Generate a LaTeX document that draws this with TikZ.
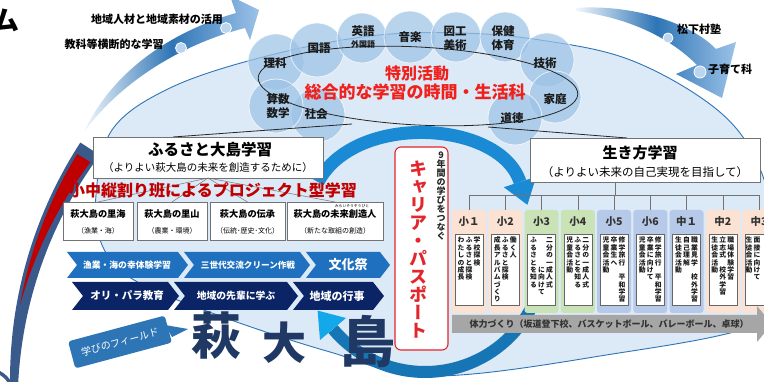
\documentclass[tikz,border=0pt]{standalone}
\usepackage{fontspec}
\setmainfont{Noto Sans CJK JP}
\newfontfamily\vf{Noto Sans CJK JP}[RawFeature=+vert]
\usetikzlibrary{calc}
\definecolor{ellfill}{HTML}{DCE9F6}
\definecolor{ellline}{HTML}{2E75B6}
\definecolor{subj}{HTML}{9DC3E6}
\definecolor{navy}{HTML}{0B2466}
\definecolor{midblue}{HTML}{1F70BE}
\definecolor{leftnavy}{HTML}{3A5A8C}
\definecolor{darkred}{HTML}{C00000}
\definecolor{cyc}{HTML}{1A8AD4}
\definecolor{cychead}{HTML}{12A8EA}
\definecolor{pinkc}{HTML}{FBE2D3}
\definecolor{greenc}{HTML}{C9E3B7}
\definecolor{bluec}{HTML}{B7C9E8}
\definecolor{bigchar}{HTML}{1F3864}
\definecolor{calloutc}{HTML}{2E75B6}
\definecolor{graybar}{HTML}{A6A6A6}
\definecolor{redtxt}{HTML}{F0201C}
\definecolor{passred}{HTML}{E3262B}
\definecolor{arrL}{HTML}{F2F7FC}
\definecolor{arrM}{HTML}{2E75B6}
\definecolor{arrR}{HTML}{9CC2E8}
\newcommand\fz[1]{\fontsize{#1}{#1}\selectfont}
\makeatletter
\def\vs@e{\vs@e}
\newcommand\vs[2][1.0]{\def\vs@p{#1}\vtop{\offinterlineskip\vs@l#2\vs@e}}
\def\vs@l#1{\ifx#1\vs@e\else\hbox to 1em{\hss\vrule width0pt height .88em depth \dimexpr\vs@p em-.88em\relax#1\hss}\expandafter\vs@l\fi}
\makeatother
\begin{document}
\begin{tikzpicture}[x=1pt,y=-1pt,
  every node/.style={inner sep=0pt,outer sep=0pt},
  subjc/.style={circle,fill=subj,fill opacity=0.72,draw=white,draw opacity=0.7,line width=0.8pt},
  subjt/.style={font=\bfseries\fz{11.5},text=black!90},
  wbox/.style={draw=black!55,line width=0.6pt,fill=white},
  treeline/.style={draw=black!55,line width=0.5pt},
  chevA/.style={fill=midblue},
  chevB/.style={fill=navy},
  chtext/.style={text=white},
  smallc/.style={fill=subj!70,draw=white,line width=0.8pt},
  vcol/.style={anchor=north,font=\vf\bfseries\fz{6.8},text=black!90}]
\useasboundingbox (0,0) rectangle (764,382);
\fill[white] (0,0) rectangle (764,382);
% big ellipse
\filldraw[fill=ellfill, draw=ellline, line width=0.9pt] plot[smooth cycle, tension=0.6] coordinates {(96,195) (112,130) (170,88) (263,57) (370,36) (460,33) (540,40) (625,58) (700,97) (745,140) (770,200) (775,265) (762,322) (600,356) (430,376) (330,352) (220,316) (134,280) (102,245)};
% left big arc
\fill[leftnavy] plot[domain=213:177, samples=40] ({446+436*cos(\x)},{380+436*sin(\x)}) -- plot[domain=177:213, samples=40] ({446+(429-(\x-177)/36*16)*cos(\x)},{380+(429-(\x-177)/36*16)*sin(\x)}) -- cycle;
\fill[darkred] plot[domain=211.5:190, samples=40] ({446+432.5*cos(\x)},{380+432.5*sin(\x)}) -- plot[domain=190:211.5, samples=40] ({446+(432.5-(\x-190)/21.5*15.5)*cos(\x)},{380+(432.5-(\x-190)/21.5*15.5)*sin(\x)}) -- cycle;
\draw[leftnavy, line width=3.5pt] plot[domain=265:335, samples=20] ({-12+25*cos(\x)},{395+25*sin(\x)});
% top-left arrow
\shade[left color=arrL, right color=arrR, middle color=arrM] (84,132) .. controls (112,72) and (170,32) .. (236,13) -- (230,-4) -- (259,10) -- (250,40) -- (245,28) .. controls (178,45) and (118,85) .. (84,132) -- cycle;
% top-right arrow
\shade[left color=arrL, right color=arrR, middle color=arrM] (576,8) .. controls (630,4) and (690,22) .. (716,49) -- (736,42) -- (722,98) -- (676,74) -- (697,65) .. controls (670,38) and (630,18) .. (576,11) -- cycle;
\filldraw[smallc] (226,28) circle[radius=5.5];
\filldraw[smallc] (181,48) circle[radius=5.5];
\filldraw[smallc] (668,38) circle[radius=5];
\filldraw[smallc] (700,72) circle[radius=6];
\node[font=\bfseries\fz{11}] (tChiiki) at (157,19) {地域人材と地域素材の活用};
\node[font=\bfseries\fz{11}] (tKyoka) at (114,44) {教科等横断的な学習};
\node[font=\bfseries\fz{11}] (tShoka) at (699,29) {松下村塾};
\node[font=\bfseries\fz{11}] (tKosodate) at (730,69) {子育て科};
\node[font=\bfseries\fz{27}] (mu) at (6,20) {ム};
% subject circles
\node[subjc, minimum size=56] (cRika) at (276,62) {};
\node[subjc, minimum size=54] (cKoku) at (317,50) {};
\node[subjc, minimum size=50] (cEigo) at (362,38) {};
\node[subjc, minimum size=52] (cOng) at (410,37) {};
\node[subjc, minimum size=50] (cZuko) at (456,37) {};
\node[subjc, minimum size=50] (cHoken) at (505,37) {};
\node[subjc, minimum size=54] (cGij) at (547,60) {};
\node[subjc, minimum size=52] (cKatei) at (555,97) {};
\node[subjc, minimum size=54] (cDoto) at (515,118) {};
\node[subjc, minimum size=54] (cShak) at (318,115) {};
\node[subjc, minimum size=54] (cSan) at (276,106) {};
% ring
\draw[black!85, line width=0.8pt] plot[smooth cycle, samples=72, domain=0:355] ({418+160*cos(\x)*cos(3)-39*sin(\x)*sin(3)},{86+160*cos(\x)*sin(3)+39*sin(\x)*cos(3)});
\node[subjt] (lRika) at (275,63) {理科};
\node[subjt] (lKoku) at (319,48) {国語};
\node[subjt] (lEigo) at (363,31) {英語};
\node[font=\bfseries\fz{8},text=black!90] (lGai) at (363,44) {外国語};
\node[subjt] (lOng) at (410,37) {音楽};
\node[subjt] (lZu) at (455,31) {図工};
\node[subjt] (lBi) at (455,45) {美術};
\node[subjt] (lHo) at (503,31) {保健};
\node[subjt] (lTai) at (503,45) {体育};
\node[subjt] (lGij) at (545,63) {技術};
\node[subjt] (lKatei) at (555,99) {家庭};
\node[subjt] (lDoto) at (512,118) {道徳};
\node[subjt] (lShak) at (316,114) {社会};
\node[subjt] (lSan) at (278,99) {算数};
\node[subjt] (lSug) at (278,113) {数学};
\node[font=\bfseries\fz{16}, text=redtxt] (tokubetsu) at (417,73) {特別活動};
\node[font=\bfseries\fz{17}, text=redtxt] (sogo) at (415,92) {総合的な学習の時間・生活科};
% connectors ring -> boxes
\coordinate (ringL) at (352,124);
\coordinate (ringR) at (488,127);
\coordinate (furuTop) at (173,137);
\coordinate (ikiTop) at (627,138);
\draw[black!85, line width=0.8pt] (ringL) -- (furuTop);
\draw[black!85, line width=0.8pt] (ringR) -- (ikiTop);
% cycle arrows
\draw[cyc, line width=13pt] (318,182) .. controls (355,112) and (500,120) .. (520,182);
\fill[cyc] (503.8,187.2) -- (536.2,176.8) -- (527.4,204.8) -- cycle;
\draw[cyc!85!black, line width=12pt] plot[domain=22:140, samples=60] ({425+120*cos(\x)},{252+120*sin(\x)});
\fill[cychead] (320,340) -- (346,318) -- (317.6,310.6) -- cycle;
% furusato box
\node[wbox, minimum width=230, minimum height=41, anchor=north west] (furusato) at (93,137) {};
\node[font=\bfseries\fz{15.5}] (furuT) at (210,150) {ふるさと大島学習};
\node[font=\fz{10.5}] (furuS) at (208,168) {（よりよい萩大島の未来を創造するために）};
% sub boxes
\node[wbox, minimum width=70, minimum height=38, anchor=north west] (sb1) at (63,202) {};
\node[wbox, minimum width=70, minimum height=38, anchor=north west] (sb2) at (137,202) {};
\node[wbox, minimum width=75, minimum height=38, anchor=north west] (sb3) at (210,202) {};
\node[wbox, minimum width=96, minimum height=38, anchor=north west] (sb4) at (287,202) {};
\draw[treeline] (furusato.south) -- (sb1.north);
\draw[treeline] (furusato.south) -- (sb2.north);
\draw[treeline] (furusato.south) -- (sb3.north);
\draw[treeline] (furusato.south) -- (sb4.north);
\node[font=\bfseries\fz{16}, text=darkred] (project) at (213,190) {小中縦割り班によるプロジェクト型学習};
\node[font=\bfseries\fz{9.2}] (sb1t) at (98,214) {萩大島の里海};
\node[font=\fz{7}] (sb1s) at (98,231) {（漁業・海）};
\node[font=\bfseries\fz{9.2}] (sb2t) at (172,214) {萩大島の里山};
\node[font=\fz{7}] (sb2s) at (172,231) {（農業・環境）};
\node[font=\bfseries\fz{9.2}] (sb3t) at (247.5,214) {萩大島の伝承};
\node[font=\fz{7}] (sb3s) at (247.5,231) {（伝統･歴史･文化）};
\node[font=\bfseries\fz{9.2}] (sb4t) at (335,214.5) {萩大島の未来創造人};
\node[font=\fz{3.8}] (sb4r) at (352,206.5) {みらいそうぞうびと};
\node[font=\fz{7}] (sb4s) at (335,231) {（新たな取組の創造）};
% chevrons
\fill[chevA] (67,252) -- (178,252) -- (188,265) -- (178,278) -- (67,278) -- (77,265) -- cycle;
\fill[chevA] (184,252) -- (300,252) -- (310,265) -- (300,278) -- (184,278) -- (194,265) -- cycle;
\fill[chevA] (306,252) -- (380,252) -- (390,265) -- (380,278) -- (306,278) -- (316,265) -- cycle;
\fill[chevB] (72,282) -- (168,282) -- (179,296) -- (168,310) -- (72,310) -- (83,296) -- cycle;
\fill[chevB] (174,282) -- (287,282) -- (298,296) -- (287,310) -- (174,310) -- (185,296) -- cycle;
\fill[chevB] (293,282) -- (373,282) -- (384,296) -- (373,310) -- (293,310) -- (304,296) -- cycle;
\node[chtext, font=\bfseries\fz{8.8}] (r1a) at (127,265) {漁業・海の幸体験学習};
\node[chtext, font=\bfseries\fz{8.6}] (r1b) at (248,265) {三世代交流クリーン作戦};
\node[chtext, font=\bfseries\fz{13}] (r1c) at (348,265) {文化祭};
\node[chtext, font=\bfseries\fz{10.5}] (r2a) at (127,296) {オリ・パラ教育};
\node[chtext, font=\bfseries\fz{9.8}] (r2b) at (236,296) {地域の先輩に学ぶ};
\node[chtext, font=\bfseries\fz{11}] (r2c) at (337,296) {地域の行事};
% big characters
\node[font=\bfseries\fz{50}, text=bigchar] (kHagi) at (216,336) {萩};
\node[font=\bfseries\fz{44}, text=bigchar] (kDai) at (284,343) {大};
\node[font=\bfseries\fz{55}, text=bigchar] (kShima) at (368,342) {島};
% callout
\fill[calloutc] (165,325) -- (188,329) -- (172,337) -- cycle;
\node[fill=calloutc, rounded corners=3pt, rotate=15, minimum width=100, minimum height=28, text=white, font=\fz{10}] (field) at (120,342) {学びのフィールド};
% passport
\node[draw=passred, line width=1.1pt, fill=white, rounded corners=6pt, minimum width=53, minimum height=203, anchor=north west] (passport) at (395,147) {};
\node[anchor=north, font=\vf\bfseries\fz{9}, text=black!85] (pp1) at (441,151) {\vs{9年間の学びをつなぐ}};
\node[anchor=north, font=\vf\bfseries\fz{18}, text=passred] (pp2) at (418,160) {\vs{キャリア・パスポート}};
% ikikata box
\node[wbox, minimum width=230, minimum height=44, anchor=north west] (ikikata) at (530,138) {};
\node[font=\bfseries\fz{15}] (ikiT) at (640,153) {生き方学習};
\node[font=\fz{11.5}] (ikiS) at (645,172) {（よりよい未来の自己実現を目指して）};
\coordinate (treeJ) at (615,195);
\draw[treeline] (615,182) -- (treeJ);
\draw[treeline] (469,195) -- (760,195);
% grade columns
\foreach \i/\lab/\col in {0/小１/pinkc, 1/小2/pinkc, 2/小3/greenc, 3/小4/greenc, 4/小5/bluec, 5/小6/bluec, 6/中１/bluec, 7/中2/pinkc, 8/中3/pinkc} {
  \pgfmathsetmacro\xa{452+36.25*\i}
  \fill[\col, rounded corners=3pt] (\xa,210) rectangle ++(34,103);
  \draw[draw=black!60, line width=0.5pt, fill=white] (\xa+3,234) rectangle ++(28,71);
  \node[font=\bfseries\fz{10.5}, text=black!80] (g\i) at (\xa+17,222) {\lab};
  \draw[treeline] (\xa+17,195) -- (\xa+17,210);
}
\node[vcol] (v0) at (469.0,237) {\vs[1.08]{わたしの成長}\hspace{1.2pt}\vs[1.08]{ふるさと探検}\hspace{1.2pt}\vs[1.08]{学校探検}};
\node[vcol] (v1) at (505.25,237) {\vs[1.08]{成長アルバムづくり}\hspace{1.2pt}\vs[1.08]{ふるさと探検}\hspace{1.2pt}\vs[1.08]{働く人}};
\node[vcol] (v2) at (541.5,237) {\vs[1.08]{ふるさとを知る}\hspace{1.2pt}\vs[1.08]{　　　　に向けて}\hspace{1.2pt}\vs[1.08]{二分の一成人式}};
\node[vcol] (v3) at (577.75,237) {\vs[1.08]{児童会活動}\hspace{1.2pt}\vs[1.08]{ふるさとを知る}\hspace{1.2pt}\vs[1.08]{二分の一成人式}};
\node[vcol] (v4) at (614.0,237) {\vs[1.08]{児童会活動}\hspace{1.2pt}\vs[1.08]{卒業生へ}\hspace{1.2pt}\vs[1.08]{修学旅行　平和学習}};
\node[vcol] (v5) at (650.25,237) {\vs[1.08]{児童会活動}\hspace{1.2pt}\vs[1.08]{卒業に向けて}\hspace{1.2pt}\vs[1.08]{修学旅行　平和学習}};
\node[vcol] (v6) at (686.5,237) {\vs[1.08]{生徒会活動}\hspace{1.2pt}\vs[1.08]{自己理解}\hspace{1.2pt}\vs[1.08]{職業見学　校外学習}};
\node[vcol] (v7) at (722.75,237) {\vs[1.08]{生徒会活動}\hspace{1.2pt}\vs[1.08]{立志式　校外学習}\hspace{1.2pt}\vs[1.08]{職場体験学習}};
\node[vcol, anchor=north west] (v8) at (745.5,237) {\vs[1.08]{生徒会活動}\hspace{1.2pt}\vs[1.08]{面接に向けて}};
% gray bar
\fill[graybar] (452,315) -- (757,315) -- (757,306) -- (772,324) -- (757,342) -- (757,333) -- (452,333) -- cycle;
\node[font=\bfseries\fz{9}, text=black!80] (tairyoku) at (609,324) {体力づくり（坂道登下校、バスケットボール、バレーボール、卓球）};
\end{tikzpicture}
\end{document}
